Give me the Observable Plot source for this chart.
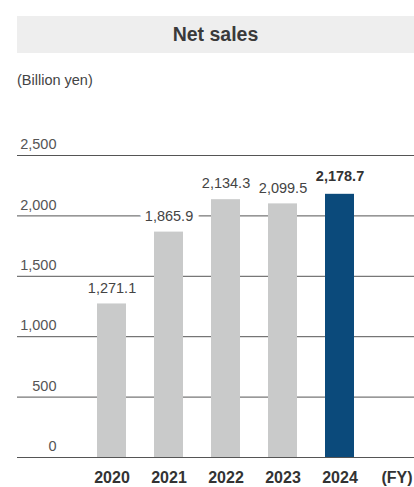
<!DOCTYPE html>
<html>
<head>
<meta charset="utf-8">
<script src="https://cdn.jsdelivr.net/npm/d3@7"></script>
<script src="https://cdn.jsdelivr.net/npm/@observablehq/plot@0.6"></script>
<style>
  html, body { margin: 0; padding: 0; background: #fff; }
  body { width: 414px; height: 487px; overflow: hidden; font-family: "Liberation Sans", Arial, sans-serif; }
  #title { margin: 16px 0 0 17px; height: 37px; line-height: 37px; background: #eeeeee; text-align: center;
           font-size: 19.5px; font-weight: bold; color: #3a3a3a; }
  #subtitle { margin: 17px 0 0 17px; height: 20px; line-height: 20px; font-size: 14.5px; color: #444; }
  #chart svg { display: block; }
</style>
</head>
<body>
<div id="title">Net sales</div>
<div id="subtitle">(Billion yen)</div>
<div id="chart"></div>
<script>
const years = ["2020", "2021", "2022", "2023", "2024"];
const netSales = [1271.1, 1865.9, 2134.3, 2099.5, 2178.7];
const yTicks = [0, 500, 1000, 1500, 2000, 2500];
const unitLabel = "(FY)";
const highlightYear = "2024";

const data = years.map((year, i) => ({year, value: netSales[i]}));
const fmt = d3.format(",.1f");
const font = "Liberation Sans, Arial, sans-serif";

const chart = Plot.plot({
  width: 414,
  height: 397,
  marginLeft: 17,
  marginRight: 0,
  marginTop: 65,
  marginBottom: 30,
  style: {fontFamily: font, background: "transparent"},
  x: {type: "band", domain: [...years, unitLabel], range: [95, 413], paddingInner: 0.5, paddingOuter: 0},
  y: {domain: [0, 2500]},
  marks: [
    Plot.ruleY(yTicks, {stroke: "#555", strokeWidth: 1}),
    Plot.barY(data, {x: "year", y: "value", fill: d => d.year === highlightYear ? "#0b4a7b" : "#c9caca"}),
    Plot.text(data.filter(d => d.year !== highlightYear), {
      x: "year", y: "value", text: d => fmt(d.value), dy: -16, lineAnchor: "middle",
      fontSize: 14.5, fill: "#444", stroke: "white", strokeWidth: 12, strokeLinejoin: "round"
    }),
    Plot.text(data.filter(d => d.year === highlightYear), {
      x: "year", y: "value", text: d => fmt(d.value), dy: -18, lineAnchor: "middle",
      fontSize: 14.5, fontWeight: "bold", fill: "#333", stroke: "white", strokeWidth: 12, strokeLinejoin: "round"
    }),
    Plot.axisY(yTicks, {anchor: "left", tickSize: 0, tickPadding: -39, textAnchor: "end", dy: -11,
      tickFormat: d3.format(","), fontSize: 14.5, fill: "#555", label: null}),
    Plot.axisX({anchor: "bottom", tickSize: 0, tickPadding: 14, fontSize: 16, fontWeight: "bold",
      fill: "#333", label: null})
  ]
});
document.getElementById("chart").appendChild(chart);
</script>
</body>
</html>
